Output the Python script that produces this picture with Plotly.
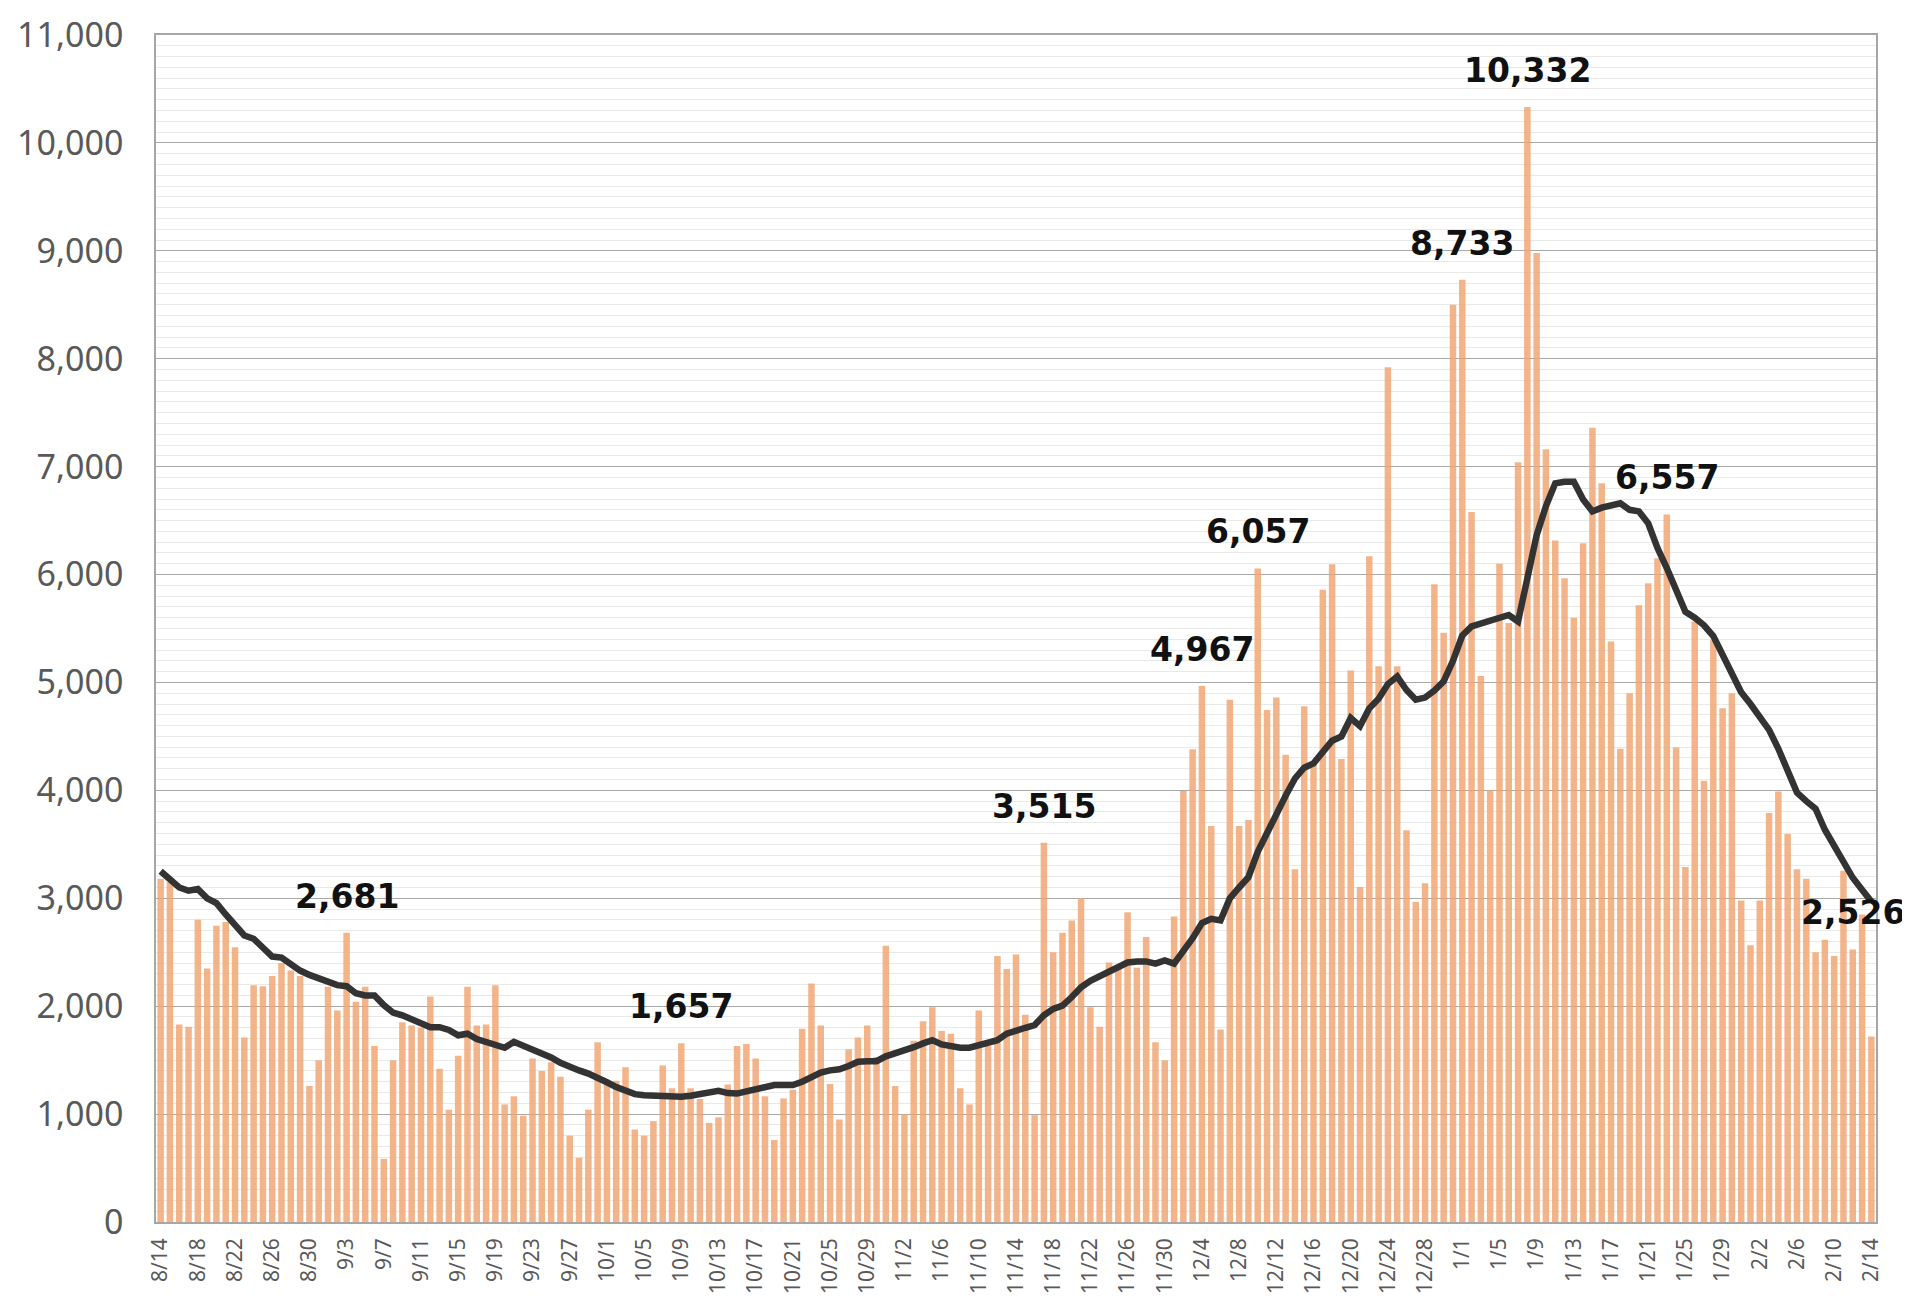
import pandas as pd
import plotly.graph_objects as go

# Categories: daily dates 8/14 .. 2/14
dates = [f"{d.month}/{d.day}" for d in pd.date_range("2020-08-14", "2021-02-14", freq="D")]

# Daily counts (bars)
daily_cases = [
    3180, 3150, 1830, 1810, 2800, 2350, 2745, 2780, 2545, 1710,
    2195, 2185, 2280, 2400, 2330, 2280, 1260, 1500, 2180, 1960,
    2681, 2040, 2180, 1630, 585, 1500, 1850, 1820, 1800, 2090,
    1420, 1040, 1540, 2180, 1820, 1830, 2195, 1090, 1165, 985,
    1515, 1400, 1480, 1345, 800, 595, 1040, 1665, 1300, 1310,
    1435, 857, 800, 935, 1450, 1240, 1657, 1240, 1140, 918,
    970, 1275, 1630, 1650, 1515, 1165, 760, 1145, 1225, 1790,
    2210, 1820, 1280, 950, 1600, 1710, 1820, 1530, 2560, 1260,
    1000, 1680, 1860, 1990, 1770, 1745, 1240, 1090, 1960, 1630,
    2465, 2345, 2480, 1920, 990, 3515, 2500, 2680, 2795, 3000,
    1990, 1810, 2405, 2355, 2870, 2355, 2640, 1665, 1500, 2830,
    3995, 4380, 4967, 3670, 1785, 4840, 3670, 3725, 6057, 4745,
    4860, 4330, 3270, 4780, 4250, 5860, 6095, 4290, 5110, 3105,
    6170, 5150, 7920, 5150, 3630, 2965, 3140, 5910, 5460, 8500,
    8733, 6580, 5060, 4000, 6100, 5550, 7040, 10332, 8980, 7160,
    6315, 5965, 5600, 6290, 7360, 6845, 5380, 4385, 4900, 5715,
    5920, 6150, 6557, 4400, 3290, 5565, 4090, 5390, 4760, 4900,
    2980, 2565, 2980, 3790, 3990, 3595, 3270, 3180, 2500, 2615,
    2465, 3255, 2526, 2850, 1720,
]

# 7-day average line
avg_line = [
    3250, 3170, 3100, 3070, 3085, 3000, 2955, 2850, 2745, 2655,
    2625, 2540, 2460, 2450, 2385, 2330, 2290, 2255, 2215, 2195,
    2185, 2120, 2100, 2100, 2010, 1940, 1915, 1875, 1830, 1805,
    1805, 1780, 1730, 1745, 1695, 1670, 1650, 1615, 1670, 1635,
    1605, 1565, 1525, 1475, 1435, 1405, 1375, 1340, 1295, 1250,
    1210, 1185, 1175, 1170, 1160, 1160, 1160, 1170, 1185, 1210,
    1215, 1195, 1190, 1210, 1230, 1255, 1270, 1270, 1270, 1300,
    1340, 1385, 1405, 1415, 1445, 1485, 1490, 1490, 1535, 1560,
    1580, 1620, 1655, 1685, 1645, 1625, 1615, 1615, 1635, 1650,
    1685, 1745, 1765, 1800, 1825, 1915, 1975, 2005, 2085, 2175,
    2235, 2275, 2320, 2355, 2405, 2415, 2415, 2395, 2425, 2395,
    2510, 2630, 2770, 2810, 2795, 3000, 3100, 3195, 3430, 3610,
    3790, 3950, 4110, 4210, 4250, 4360, 4460, 4500, 4670, 4595,
    4760, 4850, 4985, 5055, 4930, 4840, 4860, 4925, 5010, 5200,
    5435, 5520, 5550, 5580, 5600, 5625, 5565, 5935, 6365, 6635,
    6845, 6860, 6860, 6695, 6585, 6620, 6635, 6660, 6600, 6585,
    6475, 6245, 6060, 5860, 5655, 5600, 5530, 5430, 5250, 5065,
    4910, 4800, 4680, 4560, 4385, 4175, 3980, 3900, 3830, 3635,
    3495, 3345, 3190, 3080, 2970,
]

# Labelled peaks
label_dates = ["9/3", "10/9", "11/17", "12/4", "12/10", "1/1", "1/8", "1/23", "2/12"]

tick_labels = dates[::4]
y_ticks = list(range(0, 11001, 1000))

fig = go.Figure()
fig.add_trace(go.Bar(
    x=dates, y=daily_cases,
    marker=dict(color="rgba(240,163,112,0.82)", line=dict(width=0)),
    hoverinfo="x+y",
))
fig.add_trace(go.Scatter(
    x=dates, y=avg_line, mode="lines",
    line=dict(color="#333333", width=6.5),
    hoverinfo="x+y",
))

for d in label_dates:
    v = daily_cases[dates.index(d)]
    fig.add_annotation(
        x=d, y=v, text=f"{v:,}", showarrow=False,
        yanchor="bottom", yshift=15,
        font=dict(family="DejaVu Sans", size=33, color="#111111", weight="bold"),
    )

fig.update_layout(
    width=1910, height=1311,
    margin=dict(l=148, r=42, t=27, b=97),
    paper_bgcolor="white", plot_bgcolor="white",
    showlegend=False, bargap=0.3,
)
fig.update_xaxes(
    type="category", range=[-0.5, len(dates) - 0.5], automargin=False,
    tickmode="array", tickvals=tick_labels, ticktext=tick_labels,
    tickangle=-90, ticks="", ticklabelstandoff=6,
    tickfont=dict(family="Noto Sans", size=21, color="#595959"),
    showgrid=False, showline=True, linecolor="#a6a6a6", linewidth=1.5, mirror=True,
)
fig.update_yaxes(
    range=[0, 11000], tickmode="array", tickvals=y_ticks, automargin=False,
    tickformat=",", ticks="", ticklabelstandoff=24, ticklabeloverflow="allow",
    tickfont=dict(family="Noto Sans", size=34, color="#595959"),
    showgrid=True, gridcolor="#a8a8a8", gridwidth=1,
    minor=dict(dtick=100, showgrid=True, gridcolor="#e9e9e9", gridwidth=1),
    showline=True, linecolor="#a6a6a6", linewidth=1.5, mirror=True,
    zeroline=False,
)

fig.write_html("out.html")
